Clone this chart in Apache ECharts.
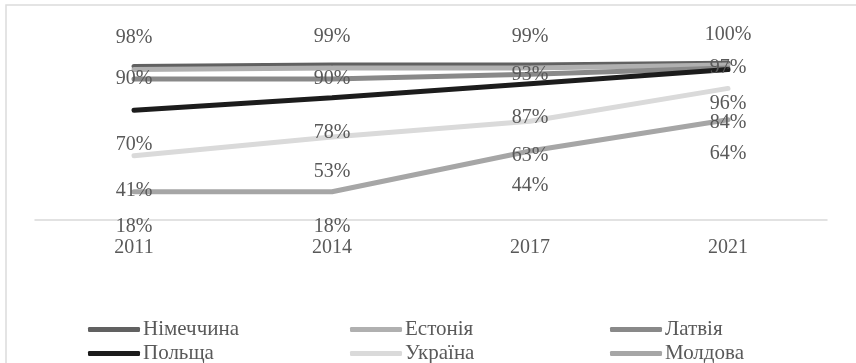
<!DOCTYPE html>
<html>
<head>
<meta charset="utf-8">
<script src="https://cdn.jsdelivr.net/npm/echarts@6/dist/echarts.min.js"></script>
<style>
  html, body { margin:0; padding:0; background:#fff; }
  #chart { width:856px; height:363px; }
</style>
</head>
<body>
<div id="chart"></div>
<script>
const years = ['2011', '2014', '2017', '2021'];
const germany = [98, 99, 99, 100];
const estonia = [96, 97, 97, 99];
const latvia = [90, 90, 93, 97];
const poland = [70, 78, 87, 96];
const ukraine = [41, 53, 63, 84];
const moldova = [18, 18, 44, 64];

const font = 'Liberation Serif';
const textColor = '#595959';

function makeLine(name, data, color, label) {
    return {
        type: 'line',
        name: name,
        data: data,
        // labels hang off the symbols, so keep a tiny one under the line
        symbol: 'circle',
        symbolSize: 1,
        lineStyle: { width: 5, color: color, cap: 'round' },
        itemStyle: { color: color },
        label: Object.assign({
            show: true,
            formatter: '{c}%',
            fontFamily: font,
            fontSize: 20,
            color: textColor
        }, label)
    };
}

// one legend per item so the 3x2 grid lines up like the original
function makeLegend(name, left, top) {
    return {
        left: left,
        top: top,
        data: [name],
        itemWidth: 52,
        itemHeight: 5,
        icon: 'roundRect',
        textStyle: { fontFamily: font, fontSize: 21, color: textColor, padding: [0, 0, 0, -2] }
    };
}

let myChart = echarts.init(document.getElementById('chart'));

let option = {
    animation: false,
    graphic: [{
        type: 'rect',
        shape: { x: 6, y: 5, width: 1000, height: 1000 },
        style: { fill: 'none', stroke: '#dcdcdc', lineWidth: 1.5 },
        silent: true
    }],
    legend: [
        makeLegend('Німеччина', 83, 314),
        makeLegend('Естонія', 345, 314),
        makeLegend('Латвія', 605, 314),
        makeLegend('Польща', 83, 338),
        makeLegend('Україна', 345, 338),
        makeLegend('Молдова', 605, 338)
    ],
    grid: { left: 35, right: 29, top: 32, bottom: 143 },
    xAxis: {
        type: 'category',
        data: years,
        boundaryGap: true,
        axisLine: { lineStyle: { color: '#d9d9d9', width: 1.5 } },
        axisTick: { show: false },
        axisLabel: { fontFamily: font, fontSize: 20, color: textColor, margin: 18 }
    },
    yAxis: {
        type: 'value',
        min: 0,
        max: 120,
        show: false,
        splitLine: { show: false }
    },
    series: [
        makeLine('Німеччина', germany, '#616161', { position: 'top', distance: 18 }),
        makeLine('Естонія', estonia, '#b0b0b0', { show: false }),
        makeLine('Латвія', latvia, '#898989', { position: 'inside' }),
        makeLine('Польща', poland, '#1c1c1c', { position: 'bottom', distance: 24 }),
        makeLine('Україна', ukraine, '#dadada', { position: 'bottom', distance: 24 }),
        makeLine('Молдова', moldova, '#a6a6a6', { position: 'bottom', distance: 24 })
    ]
};
myChart.setOption(option);
</script>
</body>
</html>
